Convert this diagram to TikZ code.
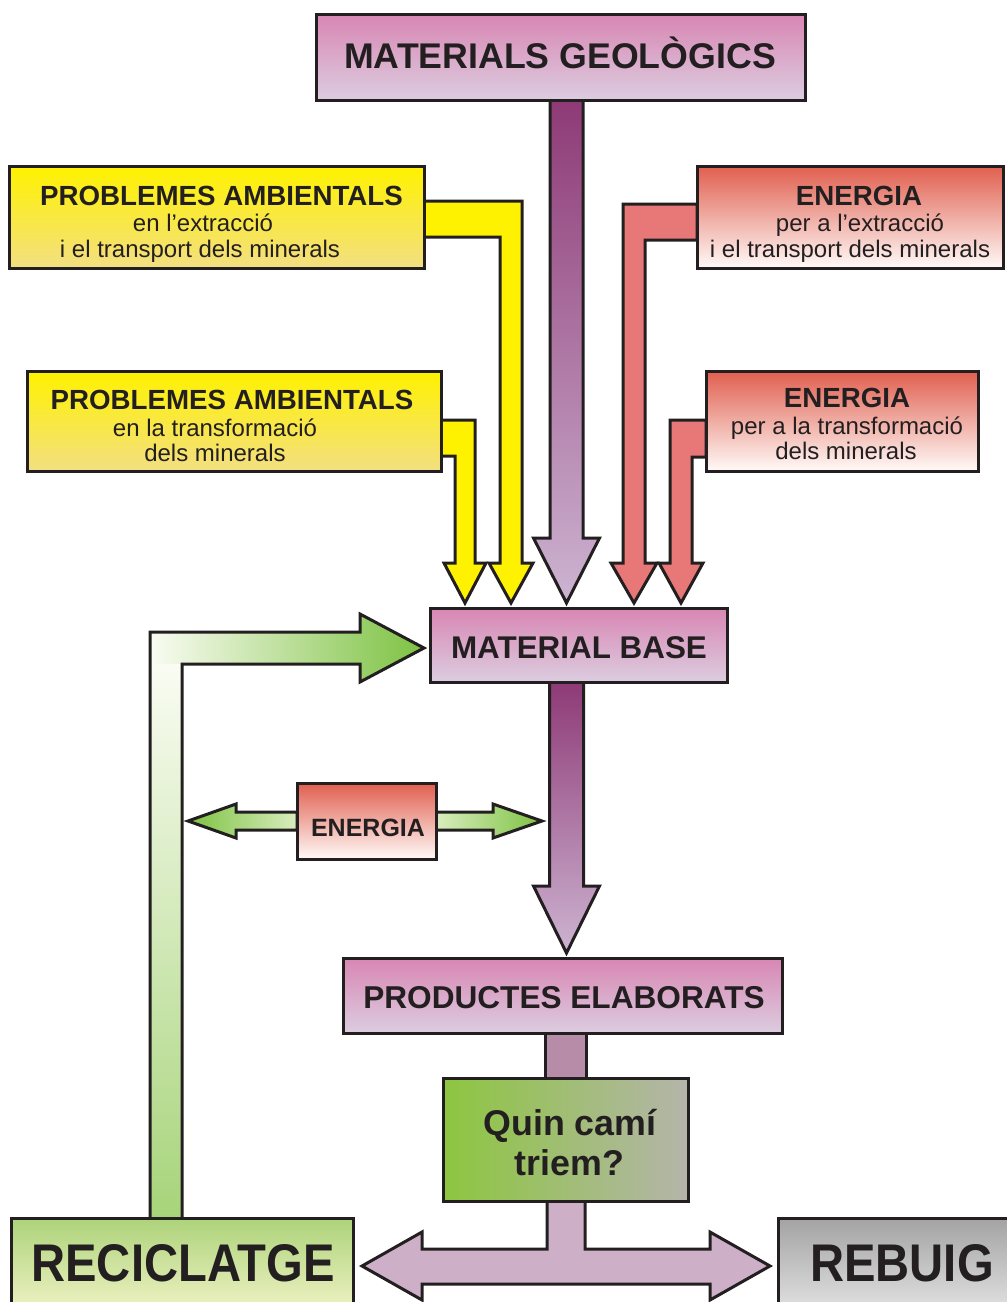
\documentclass[tikz,border=0pt]{standalone}
\usepackage{fontspec}
\setmainfont{Liberation Sans}
\usetikzlibrary{calc,backgrounds}
\definecolor{ink}{HTML}{231F20}
\definecolor{pbtop}{HTML}{D886B3}
\definecolor{pbbot}{HTML}{DCCDE0}
\definecolor{ytop}{HTML}{FFF200}
\definecolor{ybot}{HTML}{F3DF82}
\definecolor{rtop}{HTML}{E05F4F}
\definecolor{rbot}{HTML}{FFFAF8}
\definecolor{yarrowc}{HTML}{FFF200}
\definecolor{rarrowc}{HTML}{E87878}
\definecolor{patop}{HTML}{8E3A76}
\definecolor{pabot}{HTML}{CDB4D2}
\definecolor{pconn}{HTML}{B68CA8}
\definecolor{tconn}{HTML}{CDAFC7}
\definecolor{gdark}{HTML}{7DC242}
\definecolor{glight}{HTML}{FAFCF3}
\definecolor{gmid}{HTML}{D8EDBD}
\definecolor{gbot}{HTML}{A7D47A}
\definecolor{qleft}{HTML}{8DC63F}
\definecolor{qright}{HTML}{B4B5AA}
\definecolor{rectop}{HTML}{ADD37A}
\definecolor{recbot}{HTML}{F4F4C9}
\definecolor{rebtop}{HTML}{A3A3A3}
\definecolor{rebbot}{HTML}{E6E6E6}
\newcommand\tb[1]{\fontsize{#1}{#1}\selectfont\bfseries}
\newcommand\tr[1]{\fontsize{#1}{#1}\selectfont}
\newcommand\vdown[6]{%
  \path[#1] ($(#2)+(-#4,0)$) -- ($(#3)+(-#4,-#6)$) -- ($(#3)+(-#5,-#6)$) -- (#3)
    -- ($(#3)+(#5,-#6)$) -- ($(#3)+(#4,-#6)$) -- ($(#2)+(#4,0)$) -- cycle;}
\begin{document}
\begin{tikzpicture}[x=1pt,y=-1pt,
  box/.style={draw=ink, line width=3pt, inner sep=0pt, outer sep=0pt, rectangle},
  pbox/.style={box, top color=pbtop, bottom color=pbbot},
  ybox/.style={box, top color=ytop, bottom color=ybot},
  rbox/.style={box, top color=rtop, bottom color=rbot},
  qbox/.style={box, left color=qleft, right color=qright},
  recbox/.style={box, top color=rectop, bottom color=recbot},
  rebbox/.style={box, top color=rebtop, bottom color=rebbot},
  fat/.style={draw=ink, line width=3pt, line join=miter},
  t/.style={anchor=base, inner sep=0pt, text=ink}]
\useasboundingbox (0,0) rectangle (1007,1302);

% boxes
\node[pbox, minimum width=489, minimum height=86] (geo) at (560.5,57) {};
\node[ybox, minimum width=415, minimum height=102] (pa1) at (216.5,217) {};
\node[ybox, minimum width=414, minimum height=100] (pa2) at (234,421) {};
\node[rbox, minimum width=306, minimum height=102] (en1) at (850,217) {};
\node[rbox, minimum width=272, minimum height=100] (en2) at (842,421) {};
\node[pbox, minimum width=297, minimum height=74] (base) at (578.5,645) {};
\node[rbox, minimum width=139, minimum height=76] (en3) at (366.5,821) {};
\node[pbox, minimum width=439, minimum height=75] (prod) at (562.5,995.5) {};
\node[qbox, minimum width=245, minimum height=123] (quin) at (565.5,1139.5) {};
\node[recbox, minimum width=342, minimum height=100] (rec) at (182,1268) {};
\node[rebbox, minimum width=240, minimum height=100] (reb) at (898,1268) {};

\begin{pgfonlayer}{background}
% main purple arrows
\coordinate (a1top) at ($(geo.south)+(6,0)$);
\coordinate (a1tip) at ($(base.north)+(-12,-5)$);
\vdown{fat, top color=patop, bottom color=pabot}{a1top}{a1tip}{16.5}{33}{65}
\coordinate (a2top) at ($(base.south)+(-12,0)$);
\coordinate (a2tip) at ($(base.south)+(-12,271)$);
\vdown{fat, top color=patop, bottom color=pabot}{a2top}{a2tip}{17}{33}{67}
% yellow arrows
\path[fat, fill=yarrowc] ($(pa1.east)+(0,-16)$) -- ++(98,0) -- ++(0,362) -- ++(11,0)
  -- ++(-22,40) -- ++(-22,-40) -- ++(11,0) -- ++(0,-326) -- ++(-76,0) -- cycle;
\path[fat, fill=yarrowc] ($(pa2.east)+(0,-1)$) -- ++(34,0) -- ++(0,143) -- ++(11,0)
  -- ++(-21,40) -- ++(-21,-40) -- ++(11,0) -- ++(0,-107) -- ++(-14,0) -- cycle;
% red arrows
\path[fat, fill=rarrowc] ($(en1.west)+(0,-13)$) -- ++(-74,0) -- ++(0,359) -- ++(-12,0)
  -- ++(23,40) -- ++(23,-40) -- ++(-12,0) -- ++(0,-323) -- ++(52,0) -- cycle;
\path[fat, fill=rarrowc] ($(en2.west)+(0,-1)$) -- ++(-36,0) -- ++(0,143) -- ++(-11,0)
  -- ++(22,40) -- ++(22,-40) -- ++(-11,0) -- ++(0,-106) -- ++(14,0) -- cycle;
% recycling arrow
\path[left color=glight, right color=gdark] ($(rec.north)+(-32,0)$) -- ++(0,-586) -- ++(210,0)
  -- ++(0,-18) -- ++(64,34) -- ++(-64,34) -- ++(0,-18) -- ++(-178,0) -- ++(0,554) -- cycle;
\path[top color=glight, bottom color=gbot] ($(rec.north)+(-32,-554)$) rectangle ($(rec.north)+(0,0)$);
\path[draw=ink, line width=3pt] ($(rec.north)+(-32,0)$) -- ++(0,-586) -- ++(210,0)
  -- ++(0,-18) -- ++(64,34) -- ++(-64,34) -- ++(0,-18) -- ++(-178,0) -- ++(0,554);
% energy double arrow
\path[fat, left color=gdark, right color=gmid] ($(en3.west)+(0,-9)$) -- ++(-61,0) -- ++(0,-8)
  -- ++(-48,17) -- ++(48,17) -- ++(0,-8) -- ++(61,0) -- cycle;
\path[fat, left color=gmid, right color=gdark] ($(en3.east)+(0,-9)$) -- ++(57,0) -- ++(0,-8)
  -- ++(49,17) -- ++(-49,17) -- ++(0,-8) -- ++(-57,0) -- cycle;
% products -> question
\path[fat, fill=pconn] ($(prod.south)+(-17.5,0)$) rectangle ($(quin.north)+(20.5,0)$);
% question -> two ways
\path[fat, fill=tconn] ($(quin.south)+(-18.5,0)$) -- ++(0,48) -- ++(-125,0) -- ++(0,-17)
  -- ++(-60,34) -- ++(60,34) -- ++(0,-16) -- ++(288,0) -- ++(0,16) -- ++(60,-34)
  -- ++(-60,-34) -- ++(0,17) -- ++(-125,0) -- ++(0,-48) -- cycle;
\end{pgfonlayer}

% texts
\node[t, font={\tb{35.7}}] (geot) at (560,68) {MATERIALS GEOLÒGICS};
\node[t, font={\tb{27.7}}] (pa1a) at (221.5,205) {PROBLEMES AMBIENTALS};
\node[t, font={\tr{24}}] (pa1b) at (203,231) {en l’extracció};
\node[t, font={\tr{24}}] (pa1c) at (200,257) {i el transport dels minerals};
\node[t, font={\tb{27.7}}] (pa2a) at (232,409) {PROBLEMES AMBIENTALS};
\node[t, font={\tr{24}}] (pa2b) at (215,436) {en la transformació};
\node[t, font={\tr{24}}] (pa2c) at (215,461) {dels minerals};
\node[t, font={\tb{27.7}}] (en1a) at (859,205) {ENERGIA};
\node[t, font={\tr{24}}] (en1b) at (860,231) {per a l’extracció};
\node[t, font={\tr{24}}] (en1c) at (850,257) {i el transport dels minerals};
\node[t, font={\tb{27.7}}] (en2a) at (847,407) {ENERGIA};
\node[t, font={\tr{24}}] (en2b) at (847,434) {per a la transformació};
\node[t, font={\tr{24}}] (en2c) at (846,459) {dels minerals};
\node[t, font={\tb{31.4}}] (baset) at (579,658) {MATERIAL BASE};
\node[t, font={\tb{25}}] (en3t) at (368,836) {ENERGIA};
\node[t, font={\tb{31.6}}] (prodt) at (564,1008) {PRODUCTES ELABORATS};
\node[t, font={\tb{35.8}}] (quina) at (570,1135) {Quin camí};
\node[t, font={\tb{35.8}}] (quinb) at (569.5,1175) {triem?};
\node[t, font={\tb{53}}] (rect) at (183,1281) {\scalebox{0.89}[1]{RECICLATGE}};
\node[t, font={\tb{53}}] (rebt) at (902,1281) {\scalebox{0.89}[1]{REBUIG}};
\end{tikzpicture}
\end{document}
